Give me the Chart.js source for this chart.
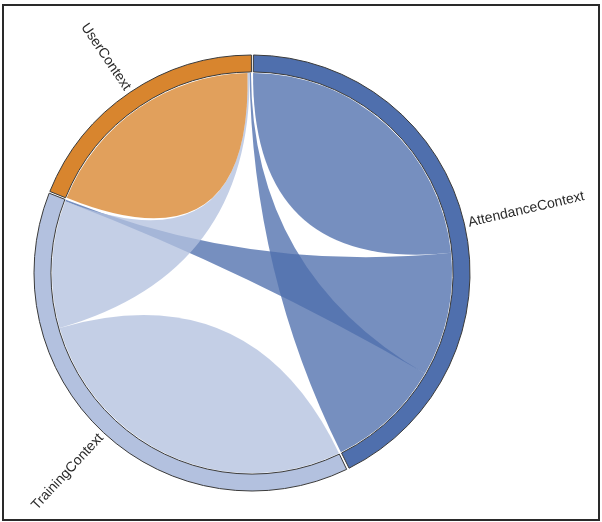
<!DOCTYPE html>
<html lang="en">
<head>
    <meta charset="UTF-8">
    <title>Context dependencies</title>
    <script src="https://cdn.jsdelivr.net/npm/chart.js"></script>
    <style>
        html, body {
            margin: 0;
            padding: 0;
            background: #fff;
        }

        .chart-container {
            position: relative;
            width: 602px;
            height: 522px;
        }

        .frame {
            position: absolute;
            left: 2px;
            top: 4px;
            width: 594px;
            height: 513px;
            border: 2px solid #2a2a2a;
            pointer-events: none;
        }
    </style>
</head>

<body>
<div class="chart-container">
    <canvas id="chordChart" width="602" height="522"></canvas>
    <div class="frame"></div>
</div>
<script>
    // groups, clockwise from 12 o'clock
    const contexts = ['AttendanceContext', 'TrainingContext', 'UserContext'];

    // flow matrix, one row per context: [to Attendance, to Training, to User]
    const attendanceFlows = [84, 36, 33.5];
    const trainingFlows = [0.5, 100, 37];
    const userFlows = [0.4, 0.6, 67];

    const matrix = [attendanceFlows, trainingFlows, userFlows];
    const groupTotals = matrix.map(row => row.reduce((s, v) => s + v, 0));

    const ringColors = ['#4f6fad', '#b3c1df', '#d8852e'];
    const ribbonColors = ['rgba(79, 111, 173, 0.78)', 'rgba(179, 193, 223, 0.78)', 'rgba(216, 133, 46, 0.78)'];

    const padAngle = 0.6 * Math.PI / 180;

    // ribbons between sub-arcs of the ring, d3-chord style
    const chordPlugin = {
        id: 'chords',
        beforeDatasetsDraw(chart) {
            const arcs = chart.getDatasetMeta(0).data;
            const ctx = chart.ctx;

            // sub-arc angles of every group, biggest flow first
            const sub = matrix.map((row, i) => {
                const a = arcs[i];
                const start = a.startAngle + padAngle / 2;
                const end = a.endAngle - padAngle / 2;
                const k = (end - start) / groupTotals[i];
                const order = row.map((v, j) => j).sort((p, q) => row[q] - row[p]);
                const res = [];
                let x = start;
                order.forEach(j => {
                    res[j] = [x, x + row[j] * k];
                    x += row[j] * k;
                });
                return res;
            });

            const cx = arcs[0].x;
            const cy = arcs[0].y;
            const r = arcs[0].innerRadius;
            const pt = ang => [cx + r * Math.cos(ang), cy + r * Math.sin(ang)];

            ctx.save();
            for (let i = 0; i < matrix.length; i++) {
                for (let j = i; j < matrix.length; j++) {
                    const [s0, s1] = sub[i][j];
                    const [t0, t1] = sub[j][i];
                    ctx.beginPath();
                    ctx.moveTo(...pt(s0));
                    ctx.arc(cx, cy, r, s0, s1);
                    if (i !== j) {
                        ctx.quadraticCurveTo(cx, cy, ...pt(t0));
                        ctx.arc(cx, cy, r, t0, t1);
                    }
                    ctx.quadraticCurveTo(cx, cy, ...pt(s0));
                    ctx.closePath();
                    ctx.fillStyle = ribbonColors[matrix[i][j] >= matrix[j][i] ? i : j];
                    ctx.fill();
                }
            }
            ctx.restore();
        },
        afterDatasetsDraw(chart) {
            const arcs = chart.getDatasetMeta(0).data;
            const ctx = chart.ctx;
            ctx.save();
            ctx.font = '14px "Liberation Sans", Arial, sans-serif';
            ctx.fillStyle = '#2b2b2b';
            ctx.textBaseline = 'middle';
            arcs.forEach((a, i) => {
                const mid = (a.startAngle + a.endAngle) / 2;
                const right = Math.cos(mid) >= 0;
                const dist = a.outerRadius + 5;
                ctx.save();
                ctx.translate(a.x, a.y);
                ctx.rotate(right ? mid : mid + Math.PI);
                ctx.textAlign = right ? 'left' : 'right';
                ctx.fillText(contexts[i], right ? dist : -dist, 0);
                ctx.restore();
            });
            ctx.restore();
        }
    };

    new Chart(document.getElementById('chordChart'), {
        type: 'doughnut',
        data: {
            labels: contexts,
            datasets: [{
                data: groupTotals,
                backgroundColor: ringColors,
                borderColor: '#3a3a3a',
                borderWidth: 1,
                spacing: 2
            }]
        },
        options: {
            responsive: false,
            animation: false,
            events: [],
            radius: 217,
            cutout: '92.2%',
            layout: {
                padding: { left: 0, right: 98, top: 24, bottom: 0 }
            },
            plugins: {
                legend: { display: false },
                tooltip: { enabled: false }
            }
        },
        plugins: [chordPlugin]
    });
</script>
</body>
</html>
